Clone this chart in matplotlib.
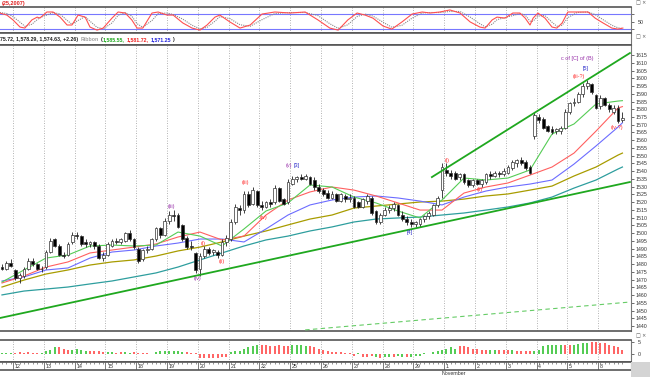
import matplotlib.pyplot as plt
from matplotlib.patches import Rectangle

# hourly bars, 7 per session
opens = [1478, 1477, 1481, 1476, 1471, 1472, 1477, 1482, 1480, 1477,
         1478, 1488, 1496, 1492, 1486, 1486, 1494, 1499, 1498, 1494,
         1493, 1494, 1492, 1484, 1486, 1492, 1495, 1494, 1495, 1500,
         1496, 1490, 1483, 1489, 1490, 1496, 1503, 1499, 1508, 1512,
         1512, 1505, 1497, 1492, 1487, 1477, 1485, 1490, 1488, 1488,
         1486, 1494, 1496, 1507, 1516, 1515, 1525, 1519, 1527, 1518,
         1517, 1520, 1520, 1529, 1522, 1520, 1532, 1535, 1536, 1535,
         1536, 1534, 1530, 1528, 1526, 1523, 1525, 1521, 1524, 1522,
         1523, 1520, 1517, 1521, 1523, 1514, 1507, 1512, 1515, 1516,
         1518, 1512, 1509, 1507, 1506, 1506, 1509, 1511, 1512, 1518,
         1528, 1541, 1539, 1539, 1536, 1538, 1534, 1531, 1534, 1532,
         1533, 1538, 1537, 1539, 1538, 1539, 1542, 1545, 1547, 1546,
         1543, 1563, 1575, 1574, 1569, 1567, 1566, 1566, 1568, 1578,
         1584, 1585, 1590, 1595, 1596, 1589, 1582, 1587, 1583, 1578,
         1581, 1573]
highs = [1480, 1482, 1483, 1477, 1474, 1478, 1484, 1484, 1481, 1479,
         1489, 1497, 1497, 1493, 1488, 1494, 1501, 1501, 1499, 1496,
         1495, 1495, 1493, 1488, 1494, 1496, 1497, 1497, 1501, 1502,
         1497, 1491, 1490, 1492, 1497, 1504, 1504, 1510, 1514, 1515,
         1513, 1506, 1498, 1495, 1488, 1487, 1492, 1491, 1490, 1489,
         1496, 1499, 1509, 1519, 1518, 1527, 1527, 1530, 1528, 1521,
         1521, 1522, 1531, 1530, 1523, 1535, 1537, 1537, 1538, 1538,
         1537, 1536, 1532, 1529, 1528, 1527, 1526, 1526, 1525, 1525,
         1524, 1521, 1523, 1525, 1524, 1515, 1513, 1517, 1518, 1520,
         1519, 1514, 1511, 1509, 1508, 1510, 1512, 1514, 1519, 1524,
         1545, 1545, 1541, 1540, 1539, 1539, 1535, 1535, 1535, 1535,
         1539, 1540, 1540, 1540, 1542, 1544, 1547, 1548, 1549, 1547,
         1544, 1578, 1577, 1575, 1570, 1569, 1568, 1569, 1580, 1585,
         1587, 1591, 1597, 1599, 1597, 1590, 1589, 1588, 1584, 1583,
         1583, 1578.3]
lows = [1476, 1476, 1478, 1470, 1468, 1471, 1476, 1479, 1476, 1475,
        1477, 1487, 1491, 1485, 1484, 1485, 1493, 1496, 1492, 1491,
        1491, 1490, 1483, 1482, 1485, 1491, 1493, 1493, 1494, 1495,
        1490, 1481, 1482, 1487, 1489, 1495, 1497, 1498, 1506, 1508,
        1503, 1495, 1490, 1489, 1474, 1472, 1484, 1486, 1486, 1484,
        1485, 1492, 1495, 1506, 1512, 1513, 1517, 1518, 1517, 1515,
        1516, 1517, 1519, 1520, 1518, 1519, 1531, 1533, 1534, 1534,
        1531, 1528, 1526, 1524, 1522, 1522, 1520, 1520, 1520, 1520,
        1516, 1516, 1516, 1519, 1512, 1506, 1506, 1511, 1513, 1514,
        1511, 1508, 1505, 1504, 1504, 1504, 1507, 1509, 1511, 1517,
        1523, 1537, 1535, 1534, 1534, 1532, 1530, 1530, 1531, 1530,
        1532, 1535, 1536, 1536, 1537, 1538, 1541, 1543, 1544, 1541,
        1538, 1561, 1571, 1567, 1565, 1564, 1564, 1564, 1567, 1577,
        1582, 1584, 1588, 1593, 1590, 1580, 1580, 1582, 1578, 1577,
        1571, 1571.5]
closes = [1477, 1481, 1479, 1471, 1473, 1477, 1482, 1480, 1477, 1477,
          1488, 1495, 1492, 1486, 1485, 1493, 1499, 1498, 1493, 1493,
          1494, 1492, 1484, 1486, 1493, 1495, 1494, 1496, 1500, 1496,
          1491, 1482, 1489, 1490, 1496, 1503, 1499, 1508, 1512, 1511,
          1504, 1496, 1491, 1491, 1476, 1485, 1490, 1487, 1489, 1486,
          1494, 1497, 1507, 1517, 1515, 1525, 1518, 1528, 1518, 1517,
          1520, 1519, 1529, 1521, 1519, 1533, 1535, 1536, 1535, 1537,
          1532, 1530, 1527, 1525, 1523, 1525, 1521, 1525, 1522, 1523,
          1517, 1517, 1522, 1524, 1513, 1507, 1512, 1515, 1516, 1519,
          1512, 1509, 1507, 1506, 1507, 1509, 1511, 1513, 1518, 1523,
          1543, 1539, 1537, 1535, 1538, 1533, 1531, 1534, 1532, 1534,
          1538, 1537, 1539, 1538, 1540, 1543, 1546, 1547, 1545, 1542,
          1539, 1576, 1573, 1568, 1566, 1565, 1567, 1568, 1578, 1584,
          1585, 1590, 1595, 1597, 1591, 1581, 1587, 1583, 1580, 1581,
          1572.4, 1574.6]

# moving average ribbon, sampled every 5 bars
ma_idx = [0, 5, 10, 15, 20, 25, 30, 35, 40, 45, 50, 55, 60, 65, 70,
          75, 80, 85, 90, 95, 100, 105, 110, 115, 120, 125, 130, 135, 140, 141]
ma_green = [1468.4, 1476.2, 1483.9, 1485.9, 1491.7, 1492.3, 1491.7, 1492.3, 1500.7, 1498.1,
            1491.7, 1502.7, 1514.3, 1519.5, 1531.1, 1529.8, 1523.3, 1519.5, 1514.3, 1509.8,
            1521.4, 1535.6, 1534.3, 1535.6, 1540.8, 1564.0, 1570.5, 1583.4, 1585.3, 1585.55]
ma_red = [1467.8, 1472.3, 1478.1, 1481.4, 1487.2, 1489.1, 1491.0, 1493.0, 1497.5, 1500.7,
          1495.6, 1498.1, 1511.7, 1521.4, 1526.6, 1529.8, 1527.8, 1524.0, 1519.5, 1514.9,
          1514.9, 1525.9, 1529.8, 1532.4, 1537.5, 1542.7, 1551.7, 1565.9, 1580.8, 1581.72]
ma_blue = [1469.1, 1471.7, 1476.2, 1477.5, 1483.9, 1487.8, 1489.1, 1491.7, 1493.6, 1496.2,
           1496.2, 1494.3, 1502.7, 1511.7, 1518.2, 1521.4, 1523.3, 1524.0, 1522.7, 1520.7,
           1518.2, 1523.3, 1527.2, 1529.8, 1531.7, 1534.3, 1544.6, 1556.3, 1568.5, 1571.25]
ma_olive = [1465.2, 1469.7, 1473.6, 1476.2, 1479.4, 1481.4, 1482.7, 1485.2, 1488.5, 1491.0,
            1494.3, 1498.1, 1501.4, 1505.3, 1509.1, 1511.7, 1516.2, 1517.5, 1518.8, 1520.1,
            1520.7, 1522.0, 1524.0, 1525.3, 1527.8, 1530.4, 1536.9, 1542.7, 1550.4, 1551.7]
ma_teal = [1460.1, 1462.6, 1463.9, 1465.2, 1467.2, 1469.1, 1471.7, 1474.3, 1478.1, 1482.7,
           1487.2, 1491.7, 1495.6, 1498.1, 1501.4, 1504.0, 1507.2, 1509.1, 1509.8, 1510.4,
           1511.7, 1513.0, 1514.9, 1516.9, 1519.5, 1523.3, 1529.1, 1534.3, 1541.4, 1542.7]

# trend lines (bar index, price)
lower_x, lower_y = [-0.45, 142.7], [1445.2, 1533.0]
upper_x, upper_y = [97.7, 142.7], [1536.2, 1616.3]
dash_x, dash_y = [68.9, 142.7], [1437.5, 1455.5]

# oscillator (top panel)
osc_x = [-0.5, 1.1, 2.5, 4.1, 5.2, 6.8, 8.0, 8.6, 10.2, 11.6,
         13.2, 14.8, 15.9, 17.3, 18.9, 20.0, 21.6, 23.0, 25.0, 26.4,
         28.0, 29.5, 30.7, 32.0, 34.1, 35.5, 37.5, 38.9, 41.1, 43.2,
         45.0, 46.6, 48.4, 49.5, 51.8, 54.1, 56.4, 59.1, 62.0, 65.5,
         68.9, 71.8, 74.5, 76.4, 78.6, 80.7, 82.5, 84.3, 86.6, 88.6,
         90.9, 93.2, 95.5, 97.3, 99.5, 101.8, 104.1, 106.4, 108.6, 109.8,
         111.4, 112.5, 114.3, 116.1, 117.7, 118.9, 120.0, 120.7, 121.8, 123.4,
         125.0, 126.1, 127.3, 128.6, 130.7, 133.2, 134.8, 136.6, 138.6, 140.0, 141.1]
osc_red = [84, 76, 57, 29, 25, 57, 68, 64, 88, 88,
           68, 37, 37, 76, 68, 29, 17, 25, 64, 88,
           84, 57, 25, 25, 84, 88, 76, 76, 45, 25,
           17, 37, 68, 76, 49, 25, 37, 80, 88, 84,
           88, 57, 25, 17, 57, 84, 76, 64, 33, 21,
           49, 80, 88, 84, 88, 96, 84, 49, 29, 25,
           57, 68, 64, 84, 84, 64, 37, 64, 84, 64,
           29, 25, 45, 88, 88, 88, 64, 45, 25, 21, 25]
osc_grey = [86, 82, 70, 48, 32, 40, 58, 66, 76, 86,
            80, 55, 40, 55, 70, 52, 28, 22, 45, 75,
            86, 72, 42, 28, 55, 82, 84, 78, 60, 36,
            22, 28, 52, 70, 62, 38, 32, 58, 82, 86,
            86, 74, 42, 24, 38, 70, 80, 72, 48, 28,
            36, 64, 84, 86, 86, 90, 90, 68, 42, 30,
            40, 58, 66, 74, 82, 76, 52, 52, 72, 74,
            48, 32, 36, 66, 86, 88, 78, 58, 36, 26, 23]

# histogram (bottom panel), g = green, r = red
hist_vals = [0.6, 0.6, 0.6, 0.4, 0.8, 0.6, 0.8, 0.4, 0.6, 0.4,
             1.2, 1.9, 2.7, 2.7, 2.3, 1.9, 1.9, 2.3, 1.9, 1.5,
             1.5, 1.2, 1.2, 0.8, 0.8, 0.8, 0.4, 0.8, 0.8, 0.4,
             0.8, 0.4, 0.4, 0.4, 0.2, 0.8, 1.2, 1.5, 1.5, 1.2,
             1.2, 0.8, 0.8, 0.4, 0.4, -1.2, -1.5, -1.5, -1.2, -1.2,
             -0.8, -0.8, 0.8, 1.2, 1.5, 2.3, 2.7, 3.1, 3.5, 3.5,
             3.5, 3.1, 3.1, 3.5, 3.1, 3.1, 3.5, 3.8, 3.5, 3.1,
             3.1, 2.7, 2.3, 1.9, 1.2, 0.8, 0.8, 0.8, 0.4, 0.4,
             -0.4, 0.4, -0.8, -0.8, -0.4, -0.8, -1.2, -0.8, -0.8, -0.8,
             -0.4, -0.8, -0.8, -0.8, -0.4, -0.4, 0.4, 0.2, 0.8, 1.2,
             1.9, 2.3, 2.7, 2.3, 3.1, 3.1, 2.7, 2.3, 2.3, 1.9,
             1.9, 1.9, 1.9, 1.9, 1.9, 1.9, 1.9, 1.5, 1.5, 1.2,
             1.2, 1.2, 1.9, 3.1, 3.8, 3.8, 3.5, 3.5, 3.5, 3.8,
             3.8, 4.2, 4.6, 4.6, 5.0, 5.0, 4.6, 4.6, 3.8, 3.1,
             2.7, 1.9]
hist_cols = ("ggg" "rrrrrr" "g" "ggg" "rrr" "gggg" "rrrr" "ggrrggr" "rrrr"
             "ggggggg" "rrr" "rrrrrrr" "ggggggg" "rrrrrrr" "gggg" "rrrr" "rrrrr"
             "rrgrrrgrggrggrggg" "gggg" "gggg" "rrrrr" "rrggrr" "rgrrr" "rgg"
             "ggggg" "rrg" "gggr" "rrr" "rrrr")

day_labels = ['12', '13', '14', '15', '18', '19', '20', '21', '22', '25',
              '26', '27', '28', '29', '1', '2', '3', '4', '5', '8']
price_ticks = list(range(1440, 1616, 5))

plt.rcParams['font.family'] = ['Liberation Sans', 'DejaVu Sans']

W, H = 650, 377
fig = plt.figure(figsize=(6.5, 3.77), dpi=100)


def box(x0, y0, x1, y1):
    return [x0 / W, 1 - y1 / H, (x1 - x0) / W, (y1 - y0) / H]


ax_osc = fig.add_axes(box(0, 7, 631, 33))
ax_hdr = fig.add_axes(box(0, 33, 631, 45))
ax = fig.add_axes(box(0, 45, 631, 331))
ax_h = fig.add_axes(box(0, 340, 631, 362))
ax_d = fig.add_axes(box(0, 362, 631, 370))

xlo, xhi = -0.45, 142.95
day_pos = [2.5 + 7 * k for k in range(len(day_labels))]

for a in (ax_osc, ax_hdr, ax, ax_h, ax_d):
    a.set_xlim(xlo, xhi)
    a.set_xticks([])
    a.spines['left'].set_visible(False)
    for s in ('top', 'bottom'):
        a.spines[s].set_color('#555555')
        a.spines[s].set_linewidth(1.2)
    a.spines['right'].set_color('#777777')
    a.spines['right'].set_linewidth(0.8)

for a in (ax_osc, ax, ax_h):
    for p in day_pos:
        a.axvline(p, color='#9a9a9a', lw=0.6, ls=(0, (1, 2)), zorder=0)

# ---- main price panel
n = len(closes)
bars = list(range(n))
ax.vlines(bars, lows, highs, color='#222222', lw=0.6, zorder=3)
faces = ['white' if c >= o else 'black' for o, c in zip(opens, closes)]
ax.bar(bars, [c - o for o, c in zip(opens, closes)], bottom=opens, width=0.62,
       color=faces, edgecolor='#333333', linewidth=0.5, zorder=4)

ax.plot(ma_idx, ma_teal, color='#2e9e9e', lw=0.9, zorder=2)
ax.plot(ma_idx, ma_olive, color='#a89c00', lw=0.9, zorder=2)
ax.plot(ma_idx, ma_blue, color='#6c6cff', lw=0.8, zorder=2)
ax.plot(ma_idx, ma_red, color='#ff6060', lw=0.8, zorder=2)
ax.plot(ma_idx, ma_green, color='#55cc55', lw=0.8, zorder=2)

ax.plot(lower_x, lower_y, color='#1fa81f', lw=1.3, zorder=5)
ax.plot(upper_x, upper_y, color='#1fa81f', lw=1.3, zorder=5)
ax.plot(dash_x, dash_y, color='#66cc66', lw=0.8, ls=(0, (4, 3)), zorder=5)

purple, red, blue = '#9933aa', '#ff3333', '#3333cc'
for txt, x, y, col in [('(iii)', 38.6, 1517.0, purple), ('(iv)', 44.5, 1470.5, purple),
                       ('(i)', 45.7, 1493.0, red), ('(ii)', 50.0, 1481.4, red),
                       ('(iii)', 55.2, 1532.4, red), ('(iv)', 59.5, 1510.4, red),
                       ('(v)', 65.1, 1544.0, purple), ('[3]', 66.9, 1544.0, blue),
                       ('[4]', 92.7, 1500.1, blue), ('(i)', 101.1, 1547.2, red),
                       ('(ii)', 108.6, 1528.5, red),
                       ('c of [C] of (B)', 130.7, 1613.0, purple),
                       ('[5]', 132.7, 1606.6, blue), ('(iii-?)', 131.1, 1601.4, red),
                       ('(iv-?)', 139.8, 1567.9, red)]:
    ax.text(x, y, txt, color=col, fontsize=4, ha='center', va='center', zorder=6)

ax.set_ylim(1436.8, 1621.5)
ax.yaxis.tick_right()
ax.set_yticks(price_ticks)
ax.tick_params(axis='y', labelsize=3.8, length=2, width=0.5, pad=1.5, colors='#333333')

# ---- oscillator
ax_osc.axhline(80, color='#7777ff', lw=0.8, zorder=1)
ax_osc.axhline(20, color='#7777ff', lw=0.8, zorder=1)
ax_osc.plot(osc_x, osc_grey, color='#888888', lw=0.8, ls=(0, (1, 1)), zorder=2)
ax_osc.plot(osc_x, osc_red, color='#ff5050', lw=0.8, zorder=3)
ax_osc.set_ylim(5.7, 107.6)
ax_osc.yaxis.tick_right()
ax_osc.set_yticks([20, 50, 80])
ax_osc.set_yticklabels(['', '50', ''])
ax_osc.tick_params(axis='y', labelsize=3.8, length=2, width=0.5, pad=3, colors='#333333')

# ---- header strip
ax_hdr.set_yticks([])
ax_hdr.set_ylim(0, 1)

# ---- histogram
ax_h.bar(bars, hist_vals, width=0.45,
         color=['#55cc55' if c == 'g' else '#ff6666' for c in hist_cols], zorder=2)
ax_h.set_ylim(-2.9, 5.58)
ax_h.yaxis.tick_right()
ax_h.set_yticks([0, 5])
ax_h.tick_params(axis='y', labelsize=3.8, length=2, width=0.5, pad=3, colors='#333333')

# ---- date strip
ax_d.set_ylim(0, 1)
ax_d.set_yticks([])
ax_d.vlines(bars, 0.7, 1, color='#666666', lw=0.5)
ax_d.vlines(day_pos, 0, 1, color='#666666', lw=0.6)
for p, lab in zip(day_pos, day_labels):
    ax_d.text(p + 0.4, 0.4, lab, fontsize=3.8, ha='left', va='center', color='#333333')
fig.text(442 / W, 1 - 373.5 / H, 'November', fontsize=3.8, va='center', color='#333333')

# ---- figure texts
fig.text(2 / W, 1 - 3 / H, '(25,2007)', color='#e02020', fontsize=4,
         fontweight='bold', va='center')
for yy in (3, 37, 336):
    fig.text(636 / W, 1 - yy / H, '\u25a1 \u00d7', fontsize=3.5, va='center',
             color='#555555', family=['DejaVu Sans'])
fig.patches.append(Rectangle((631 / W, 0), 19 / W, 15 / H, transform=fig.transFigure,
                             facecolor='#d4d4d4', edgecolor='none'))

fig.canvas.draw()
rend = fig.canvas.get_renderer()
xpos = 0
for s, col, gap in [('75.72, 1,578.29, 1,574.63, +2.26)', '#222222', 2.5),
                    ('Ribbon', '#a0a0a0', 2),
                    ('(', '#222222', 0.5),
                    ('1,585.55,', '#22aa22', 2),
                    ('1,581.72,', '#ee2222', 2),
                    ('1,571.25', '#2222dd', 0.5),
                    (')', '#222222', 0)]:
    t = fig.text(xpos / W, 1 - 39.5 / H, s, color=col, fontsize=3.8,
                 fontweight='bold', ha='left', va='center')
    xpos += t.get_window_extent(rend).width + gap

fig.savefig('out.png', dpi=100)
